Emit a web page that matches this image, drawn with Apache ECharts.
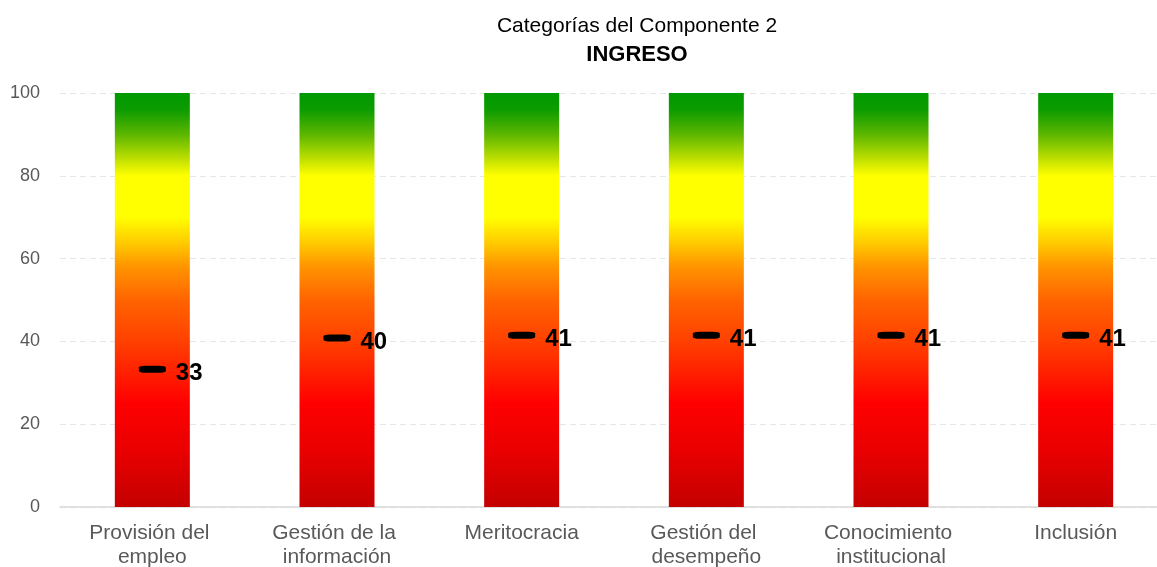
<!DOCTYPE html>
<html>
<head>
    <meta charset="utf-8">
    <title>Categorías del Componente 2</title>
    <script src="https://cdn.jsdelivr.net/npm/echarts@6/dist/echarts.min.js"></script>
    <style>
        body { margin: 0; background: #fff; }
    </style>
</head>
<body>
    <div id="main" style="width:1157px; height:567px;"></div>
    <script>
        // datos del gráfico
        var categorias = ['Provisión del empleo', 'Gestión de la información', 'Meritocracia',
            'Gestión del desempeño', 'Conocimiento institucional', 'Inclusión']
        var puntajes = [33.3, 40.8, 41.5, 41.5, 41.5, 41.5]
        var escalaMax = [100, 100, 100, 100, 100, 100]
        var ticksY = [0, 20, 40, 60, 80, 100]

        var myChart = echarts.init(document.querySelector('#main'))

        // degradado verde -> amarillo -> rojo de la escala
        var degradado = new echarts.graphic.LinearGradient(0, 0, 0, 1, [
            {offset: 0, color: '#009900'},
            {offset: 0.04, color: '#0c9c00'},
            {offset: 0.1, color: '#5cb600'},
            {offset: 0.16, color: '#c0e000'},
            {offset: 0.2, color: '#ffff00'},
            {offset: 0.3, color: '#ffff00'},
            {offset: 0.36, color: '#ffcc00'},
            {offset: 0.42, color: '#ff9400'},
            {offset: 0.5, color: '#ff6400'},
            {offset: 0.6, color: '#ff4000'},
            {offset: 0.75, color: '#ff0000'},
            {offset: 0.87, color: '#e80000'},
            {offset: 1, color: '#c40000'}
        ])

        var option = {
            animation: false,
            textStyle: {fontFamily: 'Liberation Sans, Arial, sans-serif'},
            title: [
                {
                    text: 'Categorías del Componente 2',
                    left: 632,
                    top: 11,
                    textAlign: 'center',
                    textStyle: {fontSize: 21, fontWeight: 'normal', color: '#000'}
                },
                {
                    text: 'INGRESO',
                    left: 632,
                    top: 39,
                    textAlign: 'center',
                    textStyle: {fontSize: 22, fontWeight: 'bold', color: '#000'}
                }
            ],
            grid: {
                left: 60,
                top: 93,
                right: -11,
                height: 414,
                outerBoundsMode: 'none',
                containLabel: false
            },
            xAxis: {
                type: 'category',
                data: categorias,
                axisTick: {show: false},
                axisLine: {lineStyle: {color: '#d9d9d9', width: 1.5}},
                axisLabel: {
                    color: '#595959',
                    fontSize: 21,
                    margin: 14,
                    lineHeight: 24,
                    width: 160,
                    overflow: 'break',
                    interval: 0
                }
            },
            yAxis: {
                type: 'value',
                min: ticksY[0],
                max: ticksY[ticksY.length - 1],
                interval: 20,
                axisLine: {show: false},
                axisTick: {show: false},
                axisLabel: {color: '#595959', fontSize: 18, margin: 20},
                splitLine: {lineStyle: {color: '#e6e6e6', type: [6, 4]}}
            },
            series: [
                {
                    name: 'escala',
                    type: 'bar',
                    data: escalaMax,
                    barWidth: 75,
                    itemStyle: {color: degradado},
                    silent: true
                },
                {
                    name: 'puntaje',
                    type: 'scatter',
                    data: puntajes,
                    symbol: 'roundRect',
                    symbolSize: [27, 7],
                    itemStyle: {color: '#000', opacity: 1},
                    z: 5,
                    label: {
                        show: true,
                        position: 'right',
                        distance: 10,
                        offset: [0, 4],
                        color: '#000',
                        fontSize: 24,
                        fontWeight: 'bold',
                        formatter: function(p) {
                            return Math.floor(p.value)
                        }
                    }
                }
            ]
        }

        myChart.setOption(option)
    </script>
</body>
</html>
